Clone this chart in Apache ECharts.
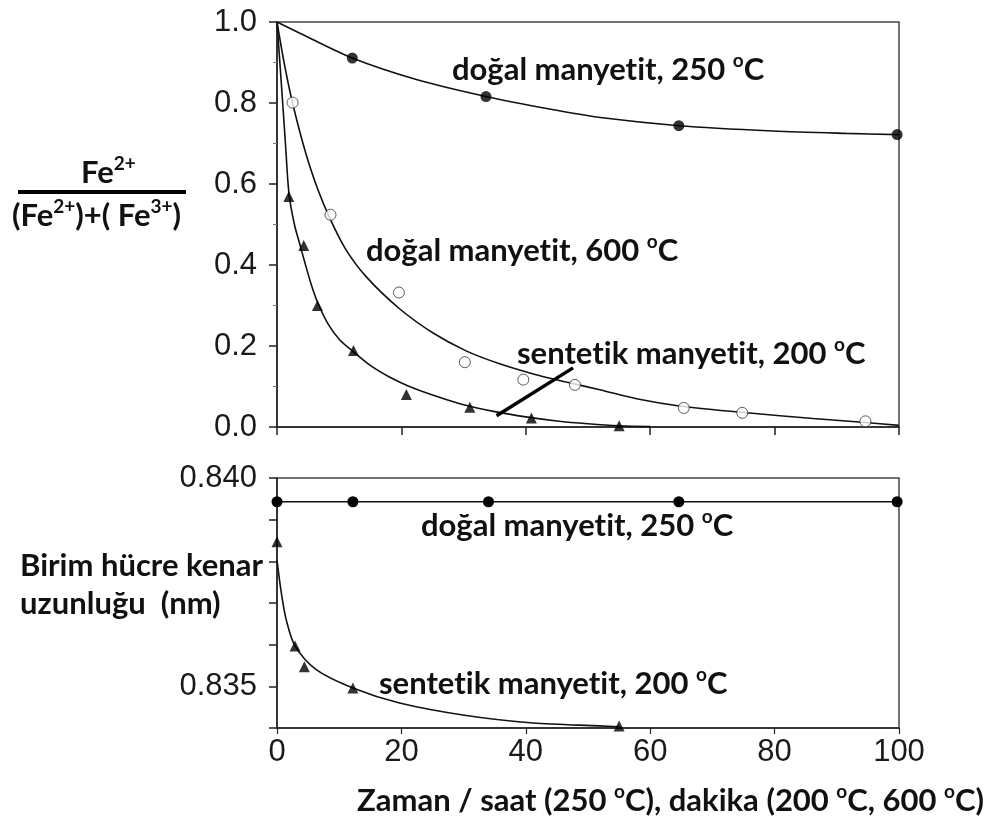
<!DOCTYPE html>
<html>
<head>
<meta charset="utf-8">
<script src="https://cdn.jsdelivr.net/npm/echarts@6/dist/echarts.min.js"></script>
<style>
  html, body { margin: 0; padding: 0; background: #fff; }
  #chart { width: 987px; height: 823px; }
</style>
</head>
<body>
<div id="chart"></div>
<script>
// ---- Upper panel: Fe2+ / (Fe2+ + Fe3+) versus time ----
const topYTickLabels = ['0.0', '0.2', '0.4', '0.6', '0.8', '1.0'];
const xTickLabels = ['0', '20', '40', '60', '80', '100'];

// natural magnetite, 250 °C (hours)
const nat250Points = [[12.1, 0.911], [33.6, 0.816], [64.6, 0.744], [99.7, 0.722]];
const nat250Fit = [[0, 1.0], [3.6, 0.973], [12.1, 0.911], [22.4, 0.858], [33.6, 0.816], [43.8, 0.785],
  [52.0, 0.764], [64.6, 0.744], [79.7, 0.731], [91.5, 0.725], [100, 0.722]];

// natural magnetite, 600 °C (minutes)
const nat600Points = [[2.5, 0.801], [8.6, 0.524], [19.6, 0.332], [30.2, 0.160], [39.6, 0.117],
  [47.9, 0.104], [65.4, 0.047], [74.8, 0.035], [94.6, 0.014]];
const nat600Fit = [[0, 1.0], [1.2, 0.895], [2.5, 0.80], [4.7, 0.672], [6.6, 0.585], [8.5, 0.515],
  [11.0, 0.440], [14.4, 0.370], [19.7, 0.292], [25.1, 0.232], [30.4, 0.188], [35.8, 0.156],
  [41.2, 0.131], [46.5, 0.111], [51.9, 0.092], [58.0, 0.069], [64.7, 0.052], [75.5, 0.035],
  [86.2, 0.021], [94.6, 0.011], [100, 0.004]];

// synthetic magnetite, 200 °C (minutes)
const syn200Points = [[1.9, 0.569], [4.3, 0.448], [6.5, 0.300], [12.3, 0.189], [20.8, 0.080],
  [31.0, 0.049], [40.9, 0.022], [55.0, 0.003]];
const syn200Fit = [[0, 1.0], [0.87, 0.81], [1.4, 0.69], [1.93, 0.575], [2.8, 0.50], [3.6, 0.455],
  [4.5, 0.405], [5.5, 0.352], [6.6, 0.305], [8.3, 0.252], [10.1, 0.215], [12.2, 0.187], [15.0, 0.152],
  [18.0, 0.124], [21.0, 0.102], [25.0, 0.079], [30.0, 0.055], [35.0, 0.038], [40.0, 0.025],
  [45.0, 0.015], [50.0, 0.008], [55.0, 0.003], [60.0, 0.001]];

// pointer from the "sentetik" label to its curve
const syn200Pointer = [[35.3, 0.028], [47.6, 0.146]];

// ---- Lower panel: unit-cell edge length (nm) ----
const bottomYTickLabels = ['', '0.835', '', '', '', '', '0.840'];
const nat250Lattice = [[0, 0.83943], [12.2, 0.83943], [34.0, 0.83943], [64.6, 0.83943], [99.7, 0.83943]];
const syn200LatticePoints = [[0, 0.83847], [2.9, 0.83597], [4.4, 0.83547], [12.2, 0.83496], [55.0, 0.83405]];
const syn200LatticeFit = [[0, 0.83803], [0.7, 0.83724], [1.5, 0.83659], [2.9, 0.83597], [6.3, 0.83540],
  [12.2, 0.83496], [19.7, 0.83460], [30.4, 0.83430], [41.2, 0.83412], [51.9, 0.83405], [55.0, 0.83403]];

const INK = '#111';
const TICK_FONT = '"Liberation Sans", Arial, sans-serif';
const LABEL_FONT = 'Lato, "Open Sans", sans-serif';

// rich-text string with a superscript "o" wherever ° appears
function degRich(str) {
  return str.replace(/ti/g, 't\u200Ci')
    .split('°').map(p => (p ? '{t|' + p + '}' : '')).join('{s|o}');
}
function labelStyle(size, supSize) {
  return {
    t: { fontSize: size, fontWeight: 'bold', fontFamily: LABEL_FONT, color: INK, lineHeight: Math.round(size * 1.2) },
    s: { fontSize: supSize, fontWeight: 'bold', fontFamily: LABEL_FONT, color: INK, verticalAlign: 'top' }
  };
}
function richText(x, y, text, size, supSize) {
  return {
    type: 'text', x: x, y: y, z: 50,
    style: {
      text: text, rich: labelStyle(size, supSize),
      fill: INK, align: 'left', textAlign: 'left', verticalAlign: 'middle', textVerticalAlign: 'middle'
    }
  };
}
function textEl(x, y, str, size, supSize) {
  return richText(x, y, degRich(str), size, supSize);
}

const axisLine = { show: true, onZero: false, lineStyle: { color: '#222', width: 1.5 } };
const axisTick = { show: true, inside: false, length: 8, lineStyle: { color: '#222', width: 1.5 } };
const fitLine = { color: INK, width: 1.6 };

const chart = echarts.init(document.getElementById('chart'), null, { renderer: 'canvas' });

const option = {
  animation: false,
  backgroundColor: '#fff',
  grid: [
    { left: 277, top: 22, width: 622, height: 405, show: true, borderColor: '#444', borderWidth: 1.5 },
    { left: 277, top: 478, width: 622, height: 250, show: true, borderColor: '#444', borderWidth: 1.5 }
  ],
  xAxis: [
    {
      gridIndex: 0, type: 'value', min: 0, max: 100, interval: 20,
      axisLine: axisLine, axisTick: axisTick, axisLabel: { show: false }, splitLine: { show: false }
    },
    {
      gridIndex: 1, type: 'value', min: 0, max: 100, interval: 20,
      axisLine: axisLine, axisTick: { show: true, inside: false, length: 6, lineStyle: { color: '#222', width: 1.2 } },
      splitLine: { show: false },
      axisLabel: {
        margin: 9, fontSize: 31, fontFamily: TICK_FONT, color: '#1a1a1a',
        formatter: (v, i) => xTickLabels[i]
      }
    }
  ],
  yAxis: [
    {
      gridIndex: 0, type: 'value', min: 0, max: 1, interval: 0.2,
      axisLine: axisLine, axisTick: axisTick, splitLine: { show: false },
      minorTick: { show: true, splitNumber: 2, length: 4, lineStyle: { color: '#777', width: 1 } },
      axisLabel: {
        margin: 20, fontSize: 31, fontFamily: TICK_FONT, color: '#1a1a1a',
        formatter: (v, i) => topYTickLabels[i]
      }
    },
    {
      gridIndex: 1, type: 'value', min: 0.834, max: 0.840, interval: 0.001,
      axisLine: axisLine, axisTick: axisTick, splitLine: { show: false },
      axisLabel: {
        margin: 20, fontSize: 31, fontFamily: TICK_FONT, color: '#1a1a1a',
        formatter: (v, i) => bottomYTickLabels[i]
      }
    }
  ],
  series: [
    // upper panel fitted curves
    { type: 'line', xAxisIndex: 0, yAxisIndex: 0, data: nat250Fit, smooth: 0.3, symbol: 'none', lineStyle: fitLine, z: 3 },
    { type: 'line', xAxisIndex: 0, yAxisIndex: 0, data: nat600Fit, smooth: 0.3, symbol: 'none', lineStyle: fitLine, z: 3 },
    { type: 'line', xAxisIndex: 0, yAxisIndex: 0, data: syn200Fit, smooth: 0.3, symbol: 'none', lineStyle: fitLine, z: 3 },
    // label pointer
    { type: 'line', xAxisIndex: 0, yAxisIndex: 0, data: syn200Pointer, symbol: 'none',
      lineStyle: { color: '#000', width: 3.5 }, z: 4 },
    // upper panel measurements
    { type: 'scatter', xAxisIndex: 0, yAxisIndex: 0, data: nat250Points, symbol: 'circle', symbolSize: 11,
      itemStyle: { color: '#000' }, z: 5 },
    { type: 'scatter', xAxisIndex: 0, yAxisIndex: 0, data: nat600Points, symbol: 'circle', symbolSize: 11,
      itemStyle: { color: '#fff', borderColor: '#333', borderWidth: 1 }, z: 5 },
    { type: 'scatter', xAxisIndex: 0, yAxisIndex: 0, data: syn200Points, symbol: 'triangle', symbolSize: 11,
      itemStyle: { color: '#000' }, z: 5 },
    // lower panel
    { type: 'line', xAxisIndex: 1, yAxisIndex: 1, data: nat250Lattice, symbol: 'circle', symbolSize: 11,
      showSymbol: true, itemStyle: { color: '#000' }, lineStyle: fitLine, z: 5 },
    { type: 'line', xAxisIndex: 1, yAxisIndex: 1, data: syn200LatticeFit, smooth: 0.3, symbol: 'none', lineStyle: fitLine, z: 3 },
    { type: 'scatter', xAxisIndex: 1, yAxisIndex: 1, data: syn200LatticePoints, symbol: 'triangle', symbolSize: 11,
      itemStyle: { color: '#000' }, z: 5 }
  ],
  graphic: [
    textEl(452, 70, 'doğal manyetit, 250 °C', 31, 19),
    textEl(366, 251, 'doğal manyetit, 600 °C', 31, 19),
    textEl(517, 354, 'sentetik manyetit, 200 °C', 31, 19),
    textEl(421, 526, 'doğal manyetit, 250 °C', 31, 19),
    textEl(379, 684, 'sentetik manyetit, 200 °C', 31, 19),
    textEl(357, 801, 'Zaman / saat (250 °C), dakika (200 °C, 600 °C)', 31, 19),
    // y-axis title of the upper panel: Fe2+ / ((Fe2+)+(Fe3+))
    richText(81, 173, '{t|Fe}{s|2+}', 31, 19),
    { type: 'rect', shape: { x: 18, y: 190, width: 168, height: 4 }, style: { fill: '#000' }, z: 50 },
    richText(12, 216, '{t|(Fe}{s|2+}{t|)+( Fe}{s|3+}{t|)}', 31, 19),
    // y-axis title of the lower panel
    richText(20, 566, '{t|Birim hücre kenar}', 31, 19),
    richText(20, 604, '{t|uzunluğu  (nm)}', 31, 19)
  ]
};

chart.setOption(option);
</script>
</body>
</html>
